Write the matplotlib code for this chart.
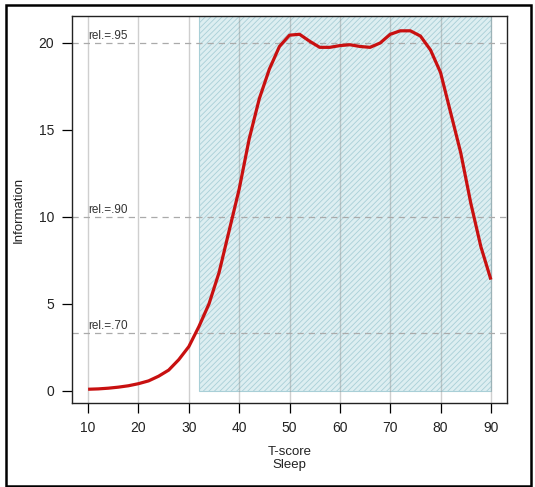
import matplotlib
matplotlib.use("Agg")
import matplotlib.pyplot as plt
from matplotlib.patches import Rectangle

plt.rcParams['font.family'] = ['Liberation Sans', 'DejaVu Sans']
plt.rcParams['hatch.linewidth'] = 0.6

# curva de informação
tscore = [10, 12, 14, 16, 18, 20, 22, 24, 26, 28, 30, 32, 34, 36, 38, 40,
          42, 44, 46, 48, 50, 52, 54, 56, 58, 60, 62, 64, 66, 68, 70, 72,
          74, 76, 78, 80, 82, 84, 86, 88, 90]
information = [0.10, 0.12, 0.16, 0.22, 0.30, 0.42, 0.58, 0.85, 1.2, 1.8, 2.55,
               3.7, 5.0, 6.8, 9.2, 11.6, 14.5, 16.8, 18.5, 19.8, 20.45, 20.5,
               20.1, 19.75, 19.75, 19.85, 19.9, 19.8, 19.75, 20.0, 20.5, 20.7,
               20.7, 20.4, 19.6, 18.3, 16.0, 13.7, 10.8, 8.3, 6.4]

rel_labels = ['rel.=.70', 'rel.=.90', 'rel.=.95']
rel_values = [0.70, 0.90, 0.95]
shade_range = [32, 90]
xticks = [10, 20, 30, 40, 50, 60, 70, 80, 90]
yticks = [0, 5, 10, 15, 20]

fig = plt.figure(figsize=(5.35, 4.87), dpi=100)
ax = fig.add_axes([0.1346, 0.1725, 0.8131, 0.7946])

ax.set_xlim(6.8, 93.2)
ax.set_ylim(-0.69, 21.55)

# região sombreada
ax.add_patch(Rectangle((shade_range[0], 0), shade_range[1] - shade_range[0], 30,
                       facecolor='#DDEEF1', edgecolor='#A9CFD7', hatch='//////',
                       linewidth=0.8, zorder=1))

for x in xticks:
    ax.axvline(x, color='#888888', alpha=0.4, lw=1, zorder=2)

for lab, r in zip(rel_labels, rel_values):
    info = 1 / (1 - r)
    ax.axhline(info, color='#AAAAAA', lw=0.9, ls=(0, (5, 4)), zorder=2)
    ax.text(10, info + 0.08, lab, fontsize=8.5, color='#333333',
            ha='left', va='bottom', zorder=3)

ax.plot(tscore, information, color='#C81010', lw=2.3, zorder=4,
        solid_capstyle='butt', solid_joinstyle='round')

ax.set_xticks(xticks)
ax.set_yticks(yticks)
ax.tick_params(direction='out', length=7, width=0.9, labelsize=10,
               labelcolor='#222222', pad=6)
for s in ax.spines.values():
    s.set_linewidth(1.0)
    s.set_color('#222222')

ax.set_xlabel('T-score\nSleep', fontsize=9.5, color='#222222', labelpad=8,
              linespacing=1.05)
ax.set_ylabel('Information', fontsize=9.5, color='#222222', labelpad=10)

# moldura externa
fig.patches.append(Rectangle((6 / 535, 1 - 486 / 487), 525 / 535, 481 / 487,
                             transform=fig.transFigure, fill=False,
                             edgecolor='black', linewidth=1.8))

fig.savefig('out.png', dpi=100)
